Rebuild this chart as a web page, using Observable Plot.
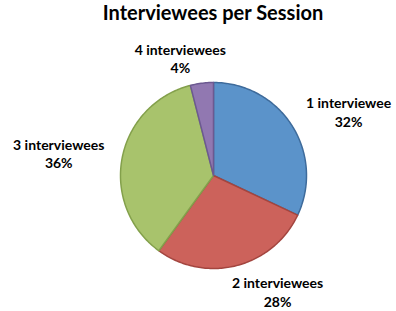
<!DOCTYPE html>
<html><head><meta charset="utf-8">
<script src="https://cdn.jsdelivr.net/npm/d3@7"></script>
<script src="https://cdn.jsdelivr.net/npm/@observablehq/plot@0.6"></script>
<style>
body{margin:0;background:#fff;}
#title{width:396px;box-sizing:border-box;padding-left:30px;height:32px;line-height:33px;overflow:visible;text-align:center;font:bold 20px Lato, sans-serif;color:#000;}
#chart svg{display:block;}
</style></head><body>
<div id="title">Interviewees per Session</div>
<div id="chart"></div>
<script>
const categories = ["1 interviewee", "2 interviewees", "3 interviewees", "4 interviewees"];
const values = [32, 28, 36, 4];
const fills = ["#5B93CA", "#CC625B", "#A8C36C", "#9178B1"];
const strokes = ["#3E6B9B", "#A3453F", "#83A04B", "#6C5991"];
// pixel nudges for label blocks (layout styling)
const labelNudge = [[33, 1], [34, -1], [-36, 0], [-18, 3]];

const arcs = d3.pie().sort(null).value(d => d)(values);
const slices = arcs.map((a, i) => {
  const pts = [{x: 0, y: 0}];
  const n = Math.max(2, Math.ceil((a.endAngle - a.startAngle) / (Math.PI / 180)));
  for (let k = 0; k <= n; k++) {
    const t = a.startAngle + (a.endAngle - a.startAngle) * k / n;
    pts.push({x: Math.sin(t), y: Math.cos(t)});
  }
  pts.push({x: 0, y: 0});
  return pts;
});
const labels = arcs.map((a, i) => {
  const m = (a.startAngle + a.endAngle) / 2;
  return {x: 1.3 * Math.sin(m), y: 1.3 * Math.cos(m), text: `${categories[i]}\n${values[i]}%`};
});

const marks = [];
slices.forEach((pts, i) => {
  marks.push(Plot.line(pts, {x: "x", y: "y", fill: fills[i], stroke: strokes[i], strokeWidth: 1.5, strokeLinejoin: "round"}));
});
labels.forEach((l, i) => {
  marks.push(Plot.text([l], {x: "x", y: "y", text: "text", dx: labelNudge[i][0], dy: labelNudge[i][1],
    lineAnchor: "middle", fontSize: 14, fontWeight: "bold", lineHeight: 1.3, fill: "#000"}));
});

const chart = Plot.plot({
  width: 396, height: 279,
  marginLeft: 120, marginRight: 90, marginTop: 50, marginBottom: 43,
  x: {domain: [-1, 1], axis: null},
  y: {domain: [-1, 1], axis: null},
  style: {fontFamily: "Lato, sans-serif", background: "#fff"},
  marks
});
document.getElementById("chart").appendChild(chart);
</script>
</body></html>
